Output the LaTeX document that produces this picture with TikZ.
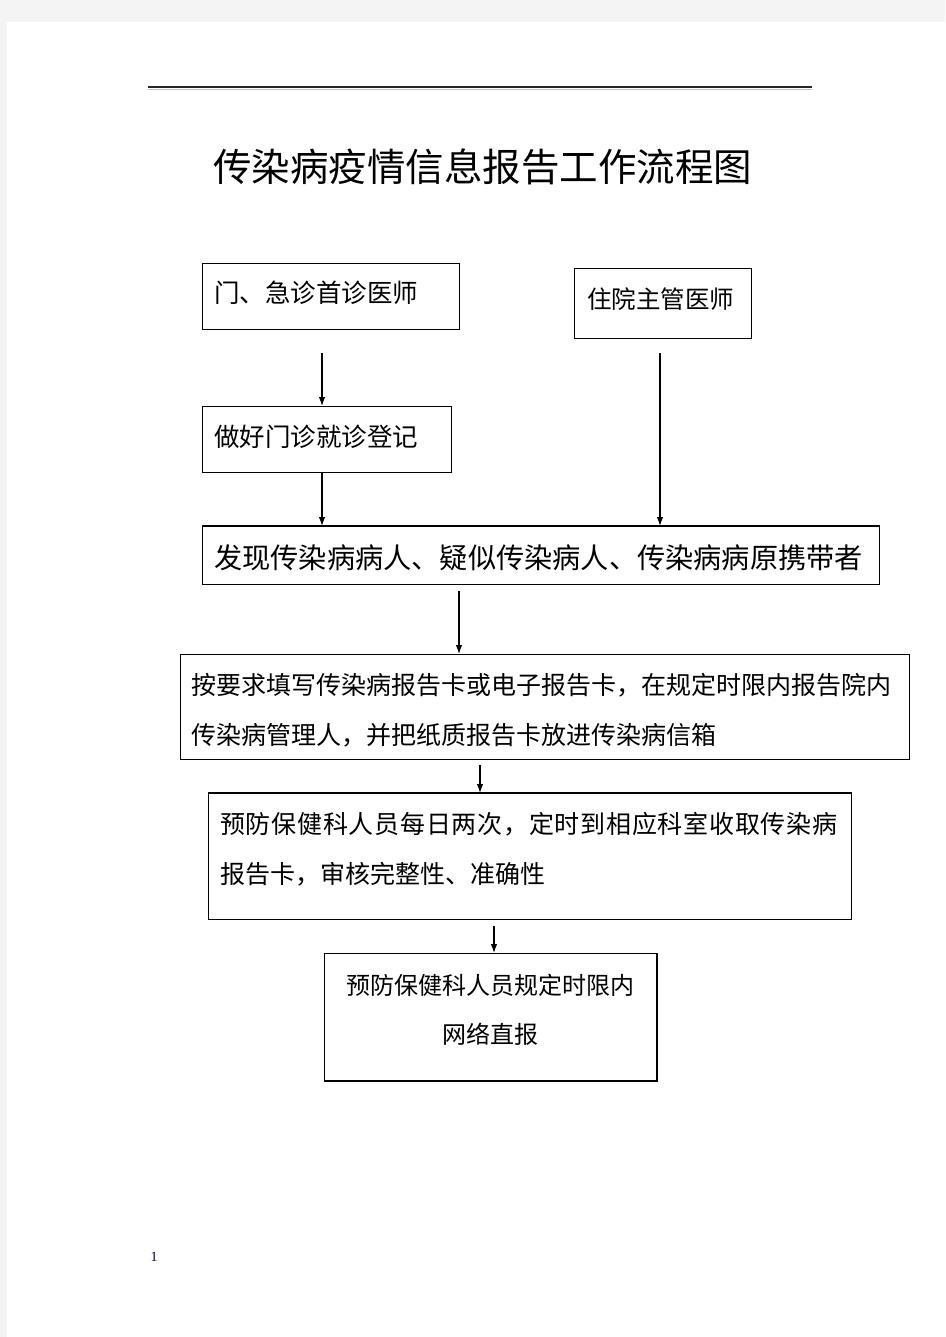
\documentclass[tikz,border=0pt]{standalone}
\usepackage{fontspec}
\setmainfont{Liberation Serif}
\newfontfamily\cjk{Noto Sans CJK SC}
\usetikzlibrary{arrows.meta}
\definecolor{pagegray}{HTML}{F4F4F4}
\begin{document}
\begin{tikzpicture}[x=1pt,y=-1pt,
  box/.style={draw=black, line width=1.2pt, rectangle, anchor=north west, inner sep=0pt},
  txt/.style={anchor=west, inner sep=0pt, align=left, text=black},
  arr/.style={-{Latex[length=9pt,width=6.5pt]}, line width=1.1pt}
]
\fill[pagegray] (0,0) rectangle (945,1337);
\fill[white] (7,22) rectangle (945,1337);
\useasboundingbox (0,0) rectangle (945,1337);

% header rule
\draw[line width=1.3pt, black!85] (148,87) -- (812,87);
\draw[line width=0.8pt, black!25] (148,89) -- (812,89);

% title
\node[inner sep=0pt, font=\cjk\fontsize{38.5pt}{40pt}\selectfont] (title) at (482.5,167) {传染病疫情信息报告工作流程图};

% boxes
\node[box, minimum width=257pt, minimum height=66pt] (b1) at (202,263) {};
\node[box, minimum width=177pt, minimum height=70pt] (b2) at (574,268) {};
\node[box, minimum width=249pt, minimum height=66pt] (b3) at (202,406) {};
\node[box, minimum width=677pt, minimum height=58pt] (b4) at (202,526) {};
\node[box, minimum width=729pt, minimum height=105pt] (b5) at (180,654) {};
\node[box, minimum width=643pt, minimum height=126pt] (b6) at (208,793) {};
\node[box, minimum width=332pt, minimum height=127pt] (b7) at (324,953) {};

% thicker edges
\draw[line width=2.4pt] (b4.north west) -- (b4.north east);
\draw[line width=2.4pt] (b6.north west) -- (b6.north east);
\draw[line width=1.6pt] (b7.north east) -- (b7.south east) -- (b7.south west);

% texts
\node[txt, font=\cjk\fontsize{25.5pt}{30pt}\selectfont] (t1) at (214,293) {门、急诊首诊医师};
\node[txt, font=\cjk\fontsize{24.5pt}{30pt}\selectfont] (t2) at (587,299) {住院主管医师};
\node[txt, font=\cjk\fontsize{25.5pt}{30pt}\selectfont] (t3) at (214,437) {做好门诊就诊登记};
\node[txt, font=\cjk\fontsize{28.2pt}{32pt}\selectfont] (t4) at (214,558) {发现传染病病人、疑似传染病人、传染病病原携带者};
\node[txt, font=\cjk\fontsize{25pt}{50pt}\selectfont] (t5) at (191,710) {按要求填写传染病报告卡或电子报告卡，在规定时限内报告院内\\传染病管理人，并把纸质报告卡放进传染病信箱};
\node[txt, font=\cjk\fontsize{25pt}{50pt}\selectfont] (t6) at (220,849) {{\addfontfeatures{LetterSpace=3}预防保健科人员每日两次，定时到相应科室收取传染病}\\报告卡，审核完整性、准确性};
\node[inner sep=0pt, align=center, font=\cjk\fontsize{24pt}{49pt}\selectfont] (t7) at (490,1010) {预防保健科人员规定时限内\\网络直报};

% connectors
\coordinate (s1) at (322,353);
\coordinate (s2) at (660,353);
\coordinate (s4) at (459,591);
\coordinate (s5) at (480,765);
\coordinate (s6) at (494,926);
\draw[arr] (s1) -- (s1 |- b3.north);
\draw[arr] (s2) -- (s2 |- b4.north);
\draw[arr] (s1 |- b3.south) -- (s1 |- b4.north);
\draw[arr] (s4) -- (s4 |- b5.north);
\draw[arr] (s5) -- (s5 |- b6.north);
\draw[arr] (s6) -- (s6 |- b7.north);

% page number
\node[inner sep=0pt, font=\fontsize{14pt}{16pt}\selectfont, text=black!80!blue] (pn) at (154,1257) {1};
\end{tikzpicture}
\end{document}
